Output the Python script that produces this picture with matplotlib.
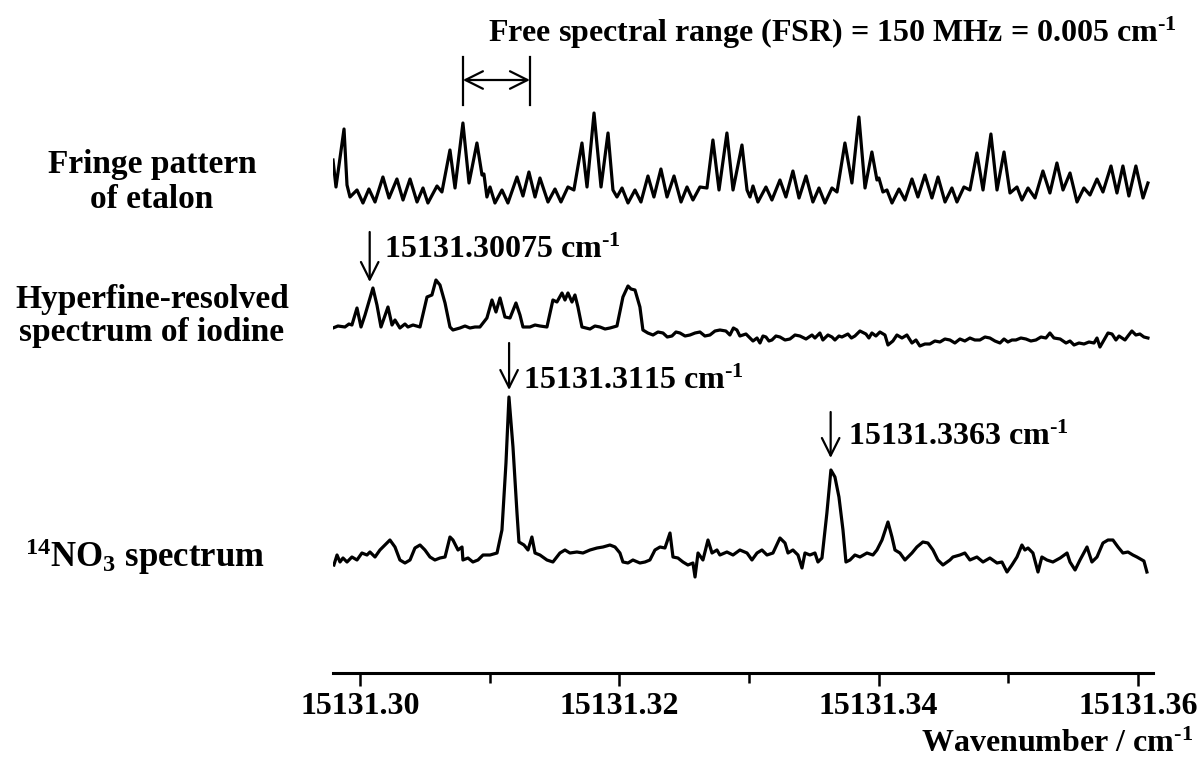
import matplotlib
matplotlib.use("Agg")
import matplotlib.pyplot as plt
import numpy as np

plt.rcParams['font.family'] = 'Liberation Serif'
plt.rcParams['font.weight'] = 'bold'
plt.rcParams['mathtext.fontset'] = 'custom'
plt.rcParams['mathtext.rm'] = 'Liberation Serif:bold'
plt.rcParams['mathtext.it'] = 'Liberation Serif:bold'
plt.rcParams['mathtext.bf'] = 'Liberation Serif:bold'
plt.rcParams['mathtext.default'] = 'rm'

# wavenumber axis: offsets from 15131.30 cm-1 in units of 1e-3 cm-1
base_wn = 15131.30

# fringe pattern of etalon (arb. units)
fringe_dx = [-2.08, -1.85, -1.23, -1.00, -0.77, -0.23, 0.23, 0.69, 1.16, 1.77,
             2.24, 2.85, 3.32, 3.86, 4.40, 4.86, 5.24, 5.94, 6.32, 6.94,
             7.33, 7.94, 8.41, 9.02, 9.41, 9.56, 9.79, 10.03, 10.41, 10.95,
             11.41, 12.11, 12.57, 13.03, 13.50, 13.88, 14.50, 15.04, 15.50, 16.04,
             16.50, 17.12, 17.51, 18.05, 18.59, 19.13, 19.51, 19.82, 20.21, 20.67,
             21.21, 21.67, 22.21, 22.67, 23.21, 23.68, 24.22, 24.76, 25.22, 25.68,
             26.22, 26.76, 27.22, 27.69, 28.30, 28.77, 29.46, 29.85, 30.08, 30.31,
             30.69, 31.31, 31.77, 32.39, 32.85, 33.39, 33.86, 34.40, 34.93, 35.40,
             35.86, 36.40, 36.79, 37.40, 37.94, 38.48, 38.95, 39.48, 39.87, 40.02,
             40.33, 40.64, 41.03, 41.57, 42.03, 42.57, 43.03, 43.57, 44.11, 44.58,
             45.12, 45.65, 46.04, 46.58, 47.04, 47.58, 48.05, 48.66, 49.13, 49.67,
             50.13, 50.67, 51.05, 51.52, 52.06, 52.67, 53.21, 53.75, 54.22, 54.76,
             55.30, 55.83, 56.30, 56.84, 57.30, 57.92, 58.38, 58.84, 59.30, 59.84,
             60.39, 60.77]
fringe_y = [43, 16, 74, 18, 6, 13, 0, 14, 1, 26,
            5, 24, 3, 24, 1, 15, 0, 17, 11, 53,
            15, 80, 20, 60, 28, 29, 6, 16, 0, 13,
            0, 26, 7, 31, 6, 25, 1, 14, 1, 16,
            13, 60, 16, 90, 16, 70, 13, 6, 15, 0,
            13, 1, 27, 6, 34, 6, 27, 1, 16, 3,
            16, 15, 63, 13, 70, 13, 58, 13, 6, 17,
            1, 16, 3, 23, 6, 32, 5, 27, 1, 15,
            0, 15, 11, 60, 20, 86, 15, 51, 23, 25,
            11, 13, 0, 14, 3, 24, 6, 28, 5, 26,
            1, 15, 1, 16, 13, 50, 13, 69, 13, 51,
            10, 16, 3, 15, 5, 32, 10, 40, 13, 30,
            1, 15, 8, 24, 11, 37, 10, 37, 7, 37,
            5, 20]

# hyperfine-resolved spectrum of iodine (arb. units)
iodine_dx = [-2.08, -1.70, -1.16, -0.85, -0.62, -0.23, 0.08, 0.39, 1.00, 1.31,
             1.62, 2.16, 2.47, 2.70, 3.08, 3.47, 3.70, 4.09, 4.63, 5.17,
             5.55, 5.86, 6.17, 6.56, 6.94, 7.17, 7.71, 8.10, 8.48, 8.87,
             9.25, 9.79, 10.18, 10.49, 10.80, 11.18, 11.57, 12.03, 12.34, 12.57,
             13.11, 13.50, 13.88, 14.42, 14.88, 15.19, 15.58, 15.81, 16.04, 16.35,
             16.58, 16.81, 17.12, 17.74, 18.12, 18.51, 18.90, 19.28, 19.82, 20.28,
             20.67, 20.90, 21.21, 21.59, 21.82, 22.20, 22.60, 22.98, 23.37, 23.70,
             24.06, 24.37, 24.68, 25.07, 25.45, 25.84, 26.22, 26.60, 26.99, 27.38,
             27.76, 28.22, 28.53, 28.80, 29.07, 29.30, 29.77, 30.00, 30.31, 30.62,
             30.85, 31.08, 31.31, 31.54, 31.77, 32.08, 32.39, 32.78, 33.16, 33.55,
             33.93, 34.40, 34.86, 35.09, 35.47, 35.70, 36.09, 36.40, 36.63, 36.94,
             37.17, 37.63, 37.90, 38.17, 38.56, 39.02, 39.25, 39.48, 39.79, 40.10,
             40.49, 40.72, 41.10, 41.41, 41.80, 42.18, 42.57, 42.88, 43.18, 43.57,
             43.95, 44.34, 44.73, 45.11, 45.50, 45.88, 46.27, 46.65, 47.04, 47.42,
             47.81, 48.20, 48.58, 48.97, 49.36, 49.67, 49.97, 50.28, 50.59, 50.97,
             51.36, 51.74, 52.13, 52.52, 52.90, 53.21, 53.52, 54.00, 54.45, 54.76,
             55.07, 55.45, 55.84, 56.22, 56.61, 56.84, 57.07, 57.38, 57.69, 58.00,
             58.30, 58.54, 58.77, 59.00, 59.23, 59.53, 59.84, 60.15, 60.46, 60.77]
iodine_y = [2, 4, 3, 6, 5, 22, 3, 15, 42, 25,
            3, 23, 5, 10, 2, 6, 3, 5, 3, 33,
            35, 50, 45, 27, 3, 0, 2, 4, 2, 3,
            3, 12, 30, 18, 32, 13, 12, 27, 15, 3,
            3, 5, 4, 3, 30, 28, 37, 30, 37, 28,
            35, 23, 3, 1, 4, 3, 1, 2, 4, 33,
            44, 41, 40, 23, 0, -3, -5, -2, -3, -7,
            -6, -2, -3, -6, -5, -3, -2, -6, -5, -1,
            0, -1, -5, 2, 0, -6, -4, -7, -11, -8,
            -13, -6, -7, -11, -10, -6, -7, -10, -9, -5,
            -6, -9, -5, -8, -3, -10, -5, -7, -10, -6,
            -7, -4, -8, -6, -1, -4, -8, -3, -6, -2,
            -5, -15, -11, -5, -8, -5, -13, -10, -16, -14,
            -14, -11, -12, -9, -10, -13, -9, -11, -8, -10,
            -10, -7, -8, -11, -13, -9, -12, -10, -10, -8,
            -9, -11, -10, -7, -8, -3, -8, -9, -13, -11,
            -15, -13, -14, -12, -13, -8, -17, -10, -3, -4,
            -10, -6, -8, -10, -6, -1, -5, -4, -7, -8]

# 14NO3 spectrum (arb. units)
no3_dx = [-2.01, -1.77, -1.54, -1.31, -1.00, -0.62, -0.23, 0.15, 0.54, 0.77,
          1.16, 1.54, 1.93, 2.31, 2.70, 3.08, 3.47, 3.86, 4.24, 4.63,
          5.01, 5.40, 5.78, 6.17, 6.56, 6.94, 7.17, 7.56, 7.87, 7.94,
          8.33, 8.71, 9.10, 9.49, 10.03, 10.57, 10.95, 11.26, 11.49, 11.80,
          12.11, 12.26, 12.65, 12.96, 13.26, 13.50, 13.88, 14.42, 14.88, 15.42,
          15.81, 16.19, 16.73, 17.20, 17.74, 18.28, 18.74, 19.28, 19.67, 20.05,
          20.28, 20.67, 21.05, 21.59, 21.98, 22.36, 22.75, 23.14, 23.52, 23.91,
          24.14, 24.52, 24.91, 25.29, 25.68, 25.84, 26.07, 26.45, 26.84, 27.15,
          27.53, 27.76, 28.30, 28.77, 29.30, 29.85, 30.23, 30.62, 31.00, 31.39,
          31.85, 32.39, 32.78, 33.01, 33.39, 33.78, 34.09, 34.32, 34.70, 35.09,
          35.32, 35.63, 36.01, 36.32, 36.63, 36.94, 37.25, 37.48, 37.79, 38.17,
          38.56, 39.10, 39.56, 39.87, 40.26, 40.72, 41.03, 41.26, 41.64, 42.03,
          42.57, 42.95, 43.41, 43.80, 44.19, 44.57, 44.96, 45.50, 45.73, 46.27,
          46.65, 47.04, 47.58, 48.05, 48.58, 49.13, 49.51, 49.90, 50.28, 50.67,
          51.05, 51.28, 51.52, 51.90, 52.29, 52.59, 52.98, 53.44, 54.00, 54.53,
          54.76, 55.15, 55.53, 56.07, 56.45, 56.84, 57.30, 57.69, 58.07, 58.46,
          58.84, 59.23, 59.61, 59.92, 60.46, 60.69]
no3_y = [0, 10, 3, 7, 3, 8, 5, 12, 10, 13,
         8, 15, 20, 25, 18, 5, 2, 5, 17, 20,
         15, 8, 5, 7, 8, 28, 25, 15, 18, 5,
         7, 3, 5, 10, 10, 12, 35, 102, 168, 118,
         52, 23, 20, 15, 28, 12, 10, 5, 3, 12,
         15, 12, 13, 12, 15, 17, 18, 20, 18, 12,
         3, 2, 5, 2, 3, 5, 15, 18, 17, 32,
         8, 7, 3, 0, 2, -12, 12, 5, 25, 12,
         15, 10, 13, 10, 15, 12, 5, 12, 15, 10,
         12, 27, 22, 12, 15, 10, -3, 12, 10, 12,
         3, 7, 52, 95, 88, 68, 35, 3, 5, 10,
         8, 12, 10, 15, 25, 43, 28, 15, 12, 5,
         12, 18, 23, 22, 15, 5, 0, 5, 8, 10,
         12, 5, 8, 3, 7, 2, 3, -7, 0, 8,
         20, 15, 17, 12, -7, 8, 5, 3, 7, 12,
         3, -5, 5, 18, 3, 8, 22, 25, 25, 18,
         12, 13, 10, 8, 4, -7]

# marked line positions (cm-1)
marks = [15131.30075, 15131.3115, 15131.3363]
mark_labels = ['15131.30075', '15131.3115', '15131.3363']
fsr_dx = [7.94, 13.11]

tick_major = [15131.30, 15131.32, 15131.34, 15131.36]
tick_minor = [15131.31, 15131.33, 15131.35]

unit = r' cm$^{\text{-}1}$'

fig = plt.figure(figsize=(12.02, 7.58), dpi=100)
ax = fig.add_axes([333 / 1202, 85 / 758, 820 / 1202, 623 / 758])

fx = base_wn + np.array(fringe_dx) * 1e-3
ix = base_wn + np.array(iodine_dx) * 1e-3
nx = base_wn + np.array(no3_dx) * 1e-3

ax.plot(fx, np.array(fringe_y) + 470, color='black', lw=2.3)
ax.plot(ix, np.array(iodine_y) + 343, color='black', lw=2.3)
ax.plot(nx, np.array(no3_y) + 108, color='black', lw=2.3)

ax.set_xlim(15131.29792, 15131.36116)
ax.set_ylim(0, 623)

for s in ['top', 'left', 'right']:
    ax.spines[s].set_visible(False)
ax.spines['bottom'].set_linewidth(2.2)
ax.set_yticks([])
ax.set_xticks(tick_major)
ax.set_xticklabels(['%.2f' % t for t in tick_major])
ax.set_xticks(tick_minor, minor=True)
ax.tick_params(axis='x', which='major', direction='out', length=9, width=1.8,
               labelsize=23, pad=5)
ax.tick_params(axis='x', which='minor', direction='out', length=7, width=1.8)

arrow_kw = dict(arrowstyle='->,head_length=0.7,head_width=0.35', color='black',
                lw=1.6, shrinkA=0, shrinkB=0, mutation_scale=18)

# line markers with arrows
ax.annotate('', xy=(marks[0], 391), xytext=(marks[0], 441), arrowprops=arrow_kw)
ax.text(marks[0] + 0.00108, 415, mark_labels[0] + unit, fontsize=23,
        ha='left', va='baseline')
ax.annotate('', xy=(marks[1], 283), xytext=(marks[1], 330), arrowprops=arrow_kw)
ax.text(marks[1] + 0.00108, 284, mark_labels[1] + unit, fontsize=23,
        ha='left', va='baseline')
ax.annotate('', xy=(marks[2], 215), xytext=(marks[2], 261), arrowprops=arrow_kw)
ax.text(marks[2] + 0.00131, 228, mark_labels[2] + unit, fontsize=23,
        ha='left', va='baseline')

# free spectral range marker
f1, f2 = base_wn + np.array(fsr_dx) * 1e-3
ax.plot([f1, f1], [568, 616], color='black', lw=1.6, clip_on=False)
ax.plot([f2, f2], [568, 616], color='black', lw=1.6, clip_on=False)
ax.annotate('', xy=(f2, 593), xytext=(f1, 593),
            arrowprops=dict(arrowstyle='<->,head_length=0.7,head_width=0.35',
                            color='black', lw=1.6, shrinkA=0, shrinkB=0,
                            mutation_scale=18))

fig.text(832 / 1202, 1 - 42 / 758,
         'Free spectral range (FSR) = 150 MHz = 0.005' + unit,
         fontsize=23, ha='center', va='baseline')

# trace labels
fig.text(152 / 1202, 1 - 182 / 758, 'Fringe pattern\nof etalon', fontsize=24,
         ha='center', va='center', linespacing=1.2)
fig.text(152 / 1202, 1 - 316 / 758, 'Hyperfine-resolved\nspectrum of iodine',
         fontsize=24, ha='center', va='center', linespacing=1.05)
fig.text(145 / 1202, 1 - 557 / 758, '$^{14}$NO$_{3}$ spectrum', fontsize=25,
         ha='center', va='center')

fig.text(1193 / 1202, 1 - 752 / 758, 'Wavenumber / cm$^{\\text{-}1}$', fontsize=23,
         ha='right', va='baseline')

fig.savefig('out.png', dpi=100)
